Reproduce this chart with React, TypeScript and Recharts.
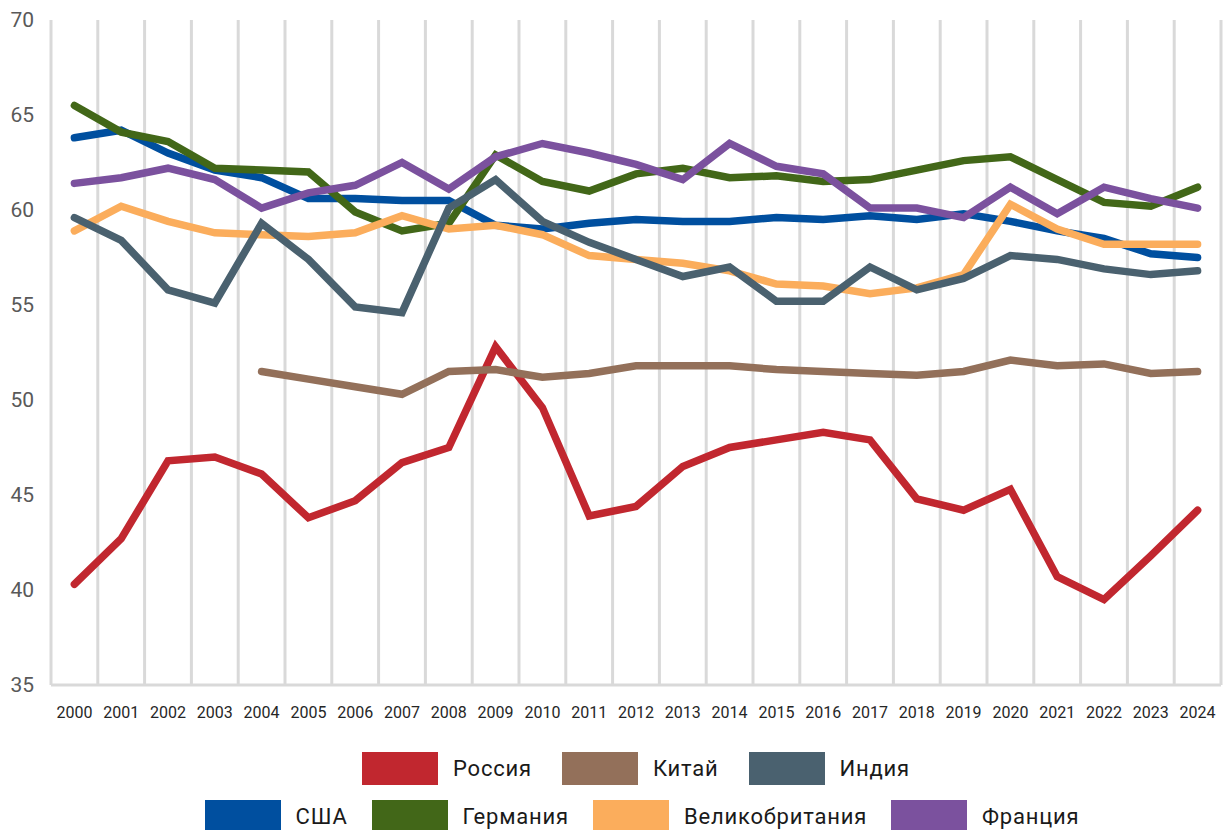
import React from 'react';
import { LineChart, Line, XAxis, YAxis, CartesianGrid } from 'recharts';

const years = [
    '2000', '2001', '2002', '2003', '2004', '2005', '2006', '2007', '2008', '2009', '2010', '2011', '2012',
    '2013', '2014', '2015', '2016', '2017', '2018', '2019', '2020', '2021', '2022', '2023', '2024',
];

const russia = [40.3, 42.7, 46.8, 47.0, 46.1, 43.8, 44.7, 46.7, 47.5, 52.8, 49.6, 43.9, 44.4, 46.5, 47.5, 47.9, 48.3, 47.9, 44.8, 44.2, 45.3, 40.7, 39.5, 41.8, 44.2];
const china = [null, null, null, null, 51.5, 51.1, 50.7, 50.3, 51.5, 51.6, 51.2, 51.4, 51.8, 51.8, 51.8, 51.6, 51.5, 51.4, 51.3, 51.5, 52.1, 51.8, 51.9, 51.4, 51.5];
const india = [59.6, 58.4, 55.8, 55.1, 59.3, 57.4, 54.9, 54.6, 60.1, 61.6, 59.4, 58.3, 57.4, 56.5, 57.0, 55.2, 55.2, 57.0, 55.8, 56.4, 57.6, 57.4, 56.9, 56.6, 56.8];
const usa = [63.8, 64.2, 63.0, 62.1, 61.7, 60.6, 60.6, 60.5, 60.5, 59.2, 59.0, 59.3, 59.5, 59.4, 59.4, 59.6, 59.5, 59.7, 59.5, 59.8, 59.4, 58.9, 58.5, 57.7, 57.5];
const germany = [65.5, 64.1, 63.6, 62.2, 62.1, 62.0, 59.9, 58.9, 59.3, 62.9, 61.5, 61.0, 61.9, 62.2, 61.7, 61.8, 61.5, 61.6, 62.1, 62.6, 62.8, 61.6, 60.4, 60.2, 61.2];
const uk = [58.9, 60.2, 59.4, 58.8, 58.7, 58.6, 58.8, 59.7, 59.0, 59.2, 58.7, 57.6, 57.4, 57.2, 56.8, 56.1, 56.0, 55.6, 55.9, 56.6, 60.3, 59.0, 58.2, 58.2, 58.2];
const france = [61.4, 61.7, 62.2, 61.6, 60.1, 60.9, 61.3, 62.5, 61.1, 62.8, 63.5, 63.0, 62.4, 61.6, 63.5, 62.3, 61.9, 60.1, 60.1, 59.6, 61.2, 59.8, 61.2, 60.6, 60.1];

const yTicks = [35, 40, 45, 50, 55, 60, 65, 70];

// series, in drawing order (later ones on top)
const series = [
    { key: 'usa', name: 'США', color: '#004f9f', values: usa },
    { key: 'germany', name: 'Германия', color: '#426718', values: germany },
    { key: 'uk', name: 'Великобритания', color: '#fbad5c', values: uk },
    { key: 'france', name: 'Франция', color: '#7b519e', values: france },
    { key: 'russia', name: 'Россия', color: '#c1272f', values: russia },
    { key: 'china', name: 'Китай', color: '#93705a', values: china },
    { key: 'india', name: 'Индия', color: '#4a616f', values: india },
];

const legendRows = [
    ['russia', 'china', 'india'],
    ['usa', 'germany', 'uk', 'france'],
];

const data = years.map((year, i) => {
    const row: Record<string, number | string | null> = { idx: i, year };
    series.forEach((s) => {
        row[s.key] = s.values[i];
    });
    return row;
});

const xTicks = years.map((_, i) => i);
// grid lines sit between the years
const gridBounds = [...years.map((_, i) => i - 0.5), years.length - 0.5];

const FONT = 'Roboto, "Noto Sans", sans-serif';

const App: React.FC = () => {
    return (
        <div style={{ position: 'absolute', left: 0, top: 0, width: 1227, height: 830, background: '#fff', fontFamily: FONT }}>
            <LineChart width={1227} height={830} data={data} margin={{ top: 20, right: 6, left: 0, bottom: 0 }}>
                <CartesianGrid
                    horizontal={false}
                    stroke="#d9d9d9"
                    strokeWidth={3}
                    verticalCoordinatesGenerator={(props: any) => {
                        const scale = props?.xAxis?.scale;
                        if (typeof scale === 'function') {
                            return gridBounds.map((v) => scale(v));
                        }
                        const { left, width } = props.offset;
                        return gridBounds.map((v) => left + ((v + 0.5) / years.length) * width);
                    }}
                />
                <XAxis
                    dataKey="idx"
                    type="number"
                    domain={[-0.5, years.length - 0.5]}
                    ticks={xTicks}
                    interval={0}
                    tickFormatter={(v: number) => years[v]}
                    height={145}
                    axisLine={{ stroke: '#d9d9d9', strokeWidth: 3 }}
                    tickLine={false}
                    tickSize={0}
                    tickMargin={22}
                    tick={{ fill: '#262626', fontSize: 16, fontFamily: FONT }}
                />
                <YAxis
                    domain={[35, 70]}
                    ticks={yTicks}
                    interval={0}
                    width={51}
                    axisLine={false}
                    tickLine={false}
                    tickSize={0}
                    tickMargin={17}
                    tick={{ fill: '#595959', fontSize: 21, fontFamily: FONT }}
                />
                {series.map((s) => (
                    <Line
                        key={s.key}
                        type="linear"
                        dataKey={s.key}
                        name={s.name}
                        stroke={s.color}
                        strokeWidth={7.5}
                        strokeLinecap="round"
                        dot={false}
                        activeDot={false}
                        isAnimationActive={false}
                    />
                ))}
            </LineChart>
            <div style={{ position: 'absolute', left: 51, top: 752, width: 1170 }}>
                {legendRows.map((row, r) => (
                    <div key={r} style={{ display: 'flex', justifyContent: 'center', gap: r === 0 ? 30 : 24, height: 48, paddingLeft: r === 1 ? 12 : 0 }}>
                        {row.map((k) => {
                            const s = series.find((x) => x.key === k)!;
                            return (
                                <div key={k} style={{ display: 'flex', alignItems: 'center', height: 33 }}>
                                    <div style={{ width: 76, height: 33, background: s.color }} />
                                    <span style={{ marginLeft: 15, fontSize: 22, letterSpacing: 0.8, color: '#1a1a1a', lineHeight: '33px' }}>{s.name}</span>
                                </div>
                            );
                        })}
                    </div>
                ))}
            </div>
        </div>
    );
};

export default App;
